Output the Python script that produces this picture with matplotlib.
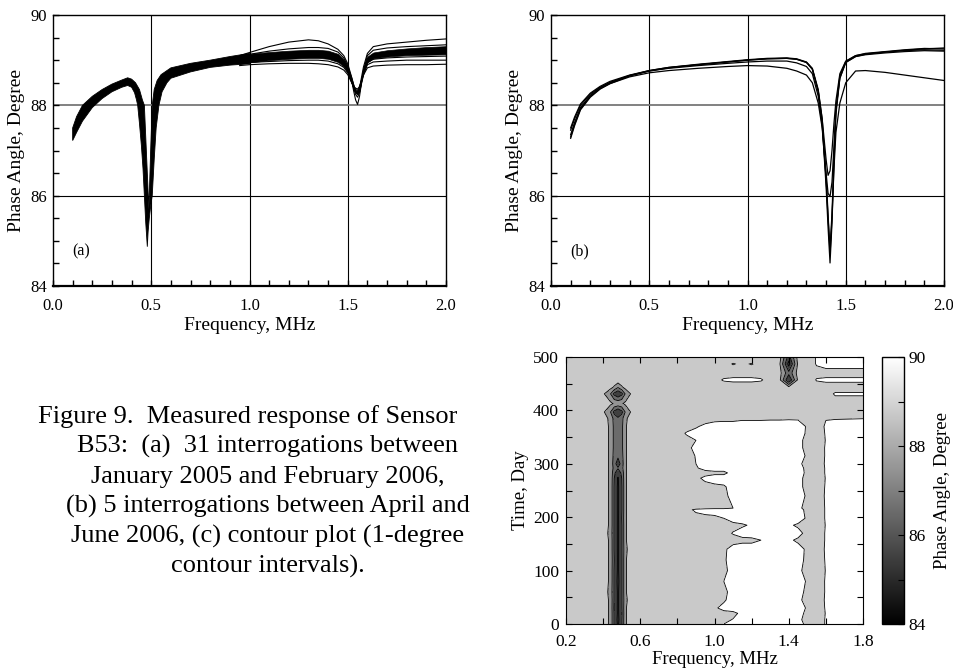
import numpy as np
import matplotlib
matplotlib.use('Agg')
import matplotlib.pyplot as plt
from matplotlib.ticker import MultipleLocator, FormatStrFormatter
from matplotlib.colors import Normalize
from matplotlib.cm import ScalarMappable

plt.rcParams['font.family'] = ['Liberation Serif', 'DejaVu Serif']

# ---------------- panel (a): 31 interrogations, Jan 2005 - Feb 2006
# lower/outer edge of the dense black bundle (0.1 - 1.0 MHz)
a_out_f = [0.10, 0.12, 0.15, 0.20, 0.25, 0.30, 0.35, 0.38, 0.40, 0.415, 0.425, 0.431,
           0.44, 0.45, 0.458, 0.465, 0.472, 0.480, 0.484, 0.490, 0.498, 0.505, 0.515,
           0.525, 0.539, 0.555, 0.58, 0.60, 0.70, 0.80, 0.90, 1.00]
a_out_v = [87.22, 87.40, 87.65, 87.95, 88.15, 88.30, 88.40, 88.44, 88.40, 88.28, 88.12, 88.00,
           87.60, 87.10, 86.60, 86.00, 85.40, 84.87, 85.20, 85.50, 85.80, 86.00, 86.80,
           87.50, 88.00, 88.30, 88.50, 88.60, 88.74, 88.84, 88.89, 88.92]
# upper/inner edge of the bundle
a_in_f = [0.10, 0.12, 0.15, 0.20, 0.25, 0.30, 0.35, 0.38, 0.40, 0.42, 0.44, 0.455, 0.465,
          0.475, 0.485, 0.488, 0.490, 0.497, 0.505, 0.515, 0.53, 0.55, 0.60, 0.70, 0.80,
          0.90, 1.00]
a_in_v = [87.50, 87.75, 88.00, 88.20, 88.35, 88.47, 88.56, 88.61, 88.58, 88.50, 88.35, 88.12,
          88.00, 87.00, 86.00, 85.70, 86.00, 87.00, 88.00, 88.35, 88.55, 88.68, 88.83, 88.93,
          89.00, 89.08, 89.15]

# above 0.95 MHz the curves spread out
a_f = [0.95, 1.00, 1.10, 1.20, 1.30, 1.35, 1.40, 1.45, 1.48, 1.50, 1.52, 1.53, 1.54, 1.55,
       1.56, 1.57, 1.58, 1.60, 1.63, 1.70, 1.80, 1.90, 2.00]
a_core_lo = [88.92, 88.95, 89.00, 89.03, 89.05, 89.05, 89.03, 88.96, 88.86, 88.72, 88.48, 88.36,
             88.27, 88.24, 88.32, 88.52, 88.70, 88.95, 89.04, 89.08, 89.11, 89.12, 89.13]
a_core_hi = [89.10, 89.14, 89.18, 89.21, 89.23, 89.23, 89.21, 89.14, 89.02, 88.86, 88.60, 88.45,
             88.33, 88.30, 88.40, 88.62, 88.82, 89.08, 89.17, 89.22, 89.26, 89.29, 89.31]
a_c1 = [89.10, 89.17, 89.30, 89.40, 89.45, 89.43, 89.36, 89.24, 89.10, 88.92, 88.62, 88.45,
        88.30, 88.25, 88.38, 88.62, 88.85, 89.15, 89.30, 89.36, 89.40, 89.44, 89.47]
a_c2 = [89.08, 89.13, 89.20, 89.25, 89.28, 89.28, 89.26, 89.18, 89.05, 88.88, 88.55, 88.32,
        88.12, 88.02, 88.20, 88.50, 88.78, 89.10, 89.22, 89.27, 89.30, 89.32, 89.34]
a_c3 = [89.00, 89.06, 89.12, 89.16, 89.19, 89.19, 89.17, 89.10, 88.98, 88.82, 88.54, 88.38,
        88.24, 88.18, 88.28, 88.52, 88.75, 89.03, 89.12, 89.16, 89.20, 89.23, 89.25]
a_c4 = [88.95, 89.00, 89.06, 89.10, 89.13, 89.13, 89.11, 89.04, 88.93, 88.78, 88.52, 88.40,
        88.30, 88.26, 88.34, 88.54, 88.72, 88.98, 89.07, 89.11, 89.14, 89.16, 89.18]
a_c5 = [88.93, 88.97, 89.02, 89.05, 89.08, 89.09, 89.08, 89.02, 88.92, 88.78, 88.54, 88.42,
        88.33, 88.30, 88.38, 88.56, 88.72, 88.95, 89.02, 89.05, 89.07, 89.08, 89.09]
a_c6 = [88.92, 88.95, 88.97, 88.99, 89.00, 89.00, 88.98, 88.92, 88.84, 88.72, 88.52, 88.42,
        88.35, 88.33, 88.40, 88.55, 88.70, 88.90, 88.96, 88.98, 89.00, 89.00, 89.00]
a_c7 = [88.88, 88.90, 88.92, 88.93, 88.93, 88.92, 88.90, 88.85, 88.78, 88.68, 88.50, 88.42,
        88.38, 88.36, 88.42, 88.55, 88.67, 88.83, 88.87, 88.89, 88.90, 88.90, 88.91]
a_curves = [a_c1, a_c2, a_c3, a_c4, a_c5, a_c6, a_c7]

# ---------------- panel (b): 5 interrogations, Apr - Jun 2006
b_f = [0.10, 0.12, 0.15, 0.20, 0.25, 0.30, 0.40, 0.50, 0.60, 0.75, 0.90, 1.00, 1.10, 1.20,
       1.25, 1.30, 1.33, 1.36, 1.38, 1.40, 1.41, 1.42, 1.43, 1.44, 1.45, 1.47, 1.50, 1.55,
       1.60, 1.70, 1.80, 1.90, 2.00]
b_1 = [87.27, 87.55, 87.90, 88.18, 88.36, 88.48, 88.65, 88.76, 88.83, 88.90, 88.96, 89.00, 89.03,
       89.04, 89.02, 88.95, 88.80, 88.30, 87.60, 86.20, 85.30, 84.51, 85.40, 86.70, 87.80, 88.60,
       88.95, 89.08, 89.13, 89.18, 89.22, 89.25, 89.27]
b_2 = [87.35, 87.62, 87.95, 88.22, 88.39, 88.50, 88.66, 88.77, 88.84, 88.91, 88.97, 89.01, 89.04,
       89.05, 89.03, 88.96, 88.82, 88.35, 87.70, 86.35, 85.50, 84.84, 85.60, 86.85, 87.90, 88.65,
       88.97, 89.10, 89.15, 89.19, 89.23, 89.26, 89.25]
b_3 = [87.45, 87.70, 88.00, 88.25, 88.40, 88.51, 88.66, 88.76, 88.82, 88.88, 88.93, 88.96, 88.98,
       88.98, 88.94, 88.86, 88.70, 88.20, 87.55, 86.50, 86.05, 85.98, 86.30, 87.10, 87.90, 88.60,
       88.95, 89.08, 89.12, 89.16, 89.19, 89.21, 89.20]
b_4 = [87.50, 87.74, 88.03, 88.27, 88.42, 88.53, 88.67, 88.77, 88.84, 88.90, 88.96, 89.00, 89.03,
       89.04, 89.02, 88.95, 88.80, 88.32, 87.70, 86.80, 86.45, 86.55, 87.00, 87.60, 88.10, 88.70,
       88.98, 89.10, 89.14, 89.18, 89.21, 89.23, 89.22]
b_5 = [87.30, 87.58, 87.92, 88.20, 88.37, 88.48, 88.63, 88.72, 88.77, 88.82, 88.86, 88.88, 88.87,
       88.82, 88.76, 88.67, 88.50, 88.05, 87.50, 86.40, 85.60, 84.70, 85.50, 86.60, 87.40, 88.05,
       88.50, 88.76, 88.77, 88.73, 88.67, 88.61, 88.55]
b_curves = [b_1, b_2, b_3, b_4, b_5]

# ---------------- panel (c): phase angle vs frequency and day
c_days = [0, 8, 20, 30, 45, 60, 80, 100, 120, 140, 157, 170, 185, 198, 214, 217, 240, 257,
          273, 283, 292, 300, 315, 330, 344, 357, 370, 385, 397, 413, 431, 444, 457, 470,
          487, 500]
c_freq_strip = [0.20, 0.40, 0.44, 0.46, 0.48, 0.50, 0.52, 0.56, 0.80]
c_freq_mid = [0.85, 0.90, 0.95, 1.00, 1.05, 1.10, 1.15, 1.20, 1.25, 1.30, 1.35, 1.40, 1.45]
c_freq_right = [1.50, 1.55, 1.60, 1.65, 1.80]

c_strip = [
    [88.3, 88.5, 87.8, 85.9, 84.8, 85.9, 87.9, 88.6, 88.8],
    [88.3, 88.5, 87.8, 85.9, 84.7, 85.9, 87.9, 88.6, 88.8],
    [88.3, 88.5, 87.8, 85.9, 84.8, 85.8, 87.9, 88.6, 88.8],
    [88.3, 88.5, 87.8, 85.8, 84.8, 85.9, 87.9, 88.6, 88.8],
    [88.3, 88.5, 87.8, 85.9, 84.8, 85.9, 87.8, 88.6, 88.8],
    [88.3, 88.5, 87.7, 85.9, 84.8, 85.9, 87.9, 88.6, 88.8],
    [88.3, 88.5, 87.8, 85.9, 84.7, 85.9, 87.9, 88.6, 88.8],
    [88.3, 88.5, 87.8, 85.9, 84.8, 85.9, 87.9, 88.6, 88.8],
    [88.3, 88.5, 87.8, 86.0, 84.8, 85.9, 87.9, 88.6, 88.8],
    [88.3, 88.5, 87.8, 85.9, 84.8, 85.9, 87.8, 88.6, 88.8],
    [88.3, 88.5, 87.8, 85.9, 84.8, 85.9, 87.9, 88.6, 88.8],
    [88.3, 88.5, 87.7, 85.9, 84.8, 85.9, 87.9, 88.6, 88.8],
    [88.3, 88.5, 87.8, 85.9, 84.8, 85.9, 87.9, 88.6, 88.8],
    [88.3, 88.5, 87.8, 85.9, 84.8, 86.0, 87.9, 88.6, 88.8],
    [88.3, 88.5, 87.8, 85.9, 84.8, 85.9, 87.9, 88.6, 88.8],
    [88.3, 88.5, 87.8, 85.9, 84.8, 85.9, 87.9, 88.6, 88.8],
    [88.3, 88.5, 87.8, 85.9, 84.8, 85.9, 87.9, 88.6, 88.8],
    [88.3, 88.5, 87.8, 85.9, 84.8, 85.9, 87.9, 88.6, 88.8],
    [88.3, 88.5, 87.8, 86.0, 84.9, 86.0, 87.9, 88.6, 88.8],
    [88.3, 88.5, 87.8, 86.2, 85.4, 86.2, 87.9, 88.6, 88.8],
    [88.3, 88.5, 87.8, 86.6, 86.1, 86.6, 87.9, 88.6, 88.8],
    [88.3, 88.5, 87.8, 86.4, 85.5, 86.4, 87.9, 88.6, 88.8],
    [88.3, 88.5, 87.8, 86.6, 86.2, 86.6, 87.9, 88.6, 88.8],
    [88.3, 88.5, 87.8, 86.7, 86.3, 86.7, 87.9, 88.6, 88.8],
    [88.3, 88.5, 87.8, 86.7, 86.3, 86.7, 87.9, 88.6, 88.8],
    [88.3, 88.5, 87.8, 86.7, 86.3, 86.7, 87.9, 88.6, 88.8],
    [88.3, 88.5, 87.8, 86.7, 86.4, 86.7, 87.9, 88.6, 88.8],
    [88.3, 88.5, 87.7, 86.6, 86.2, 86.6, 87.8, 88.6, 88.8],
    [88.4, 88.2, 87.0, 85.7, 85.0, 85.7, 87.1, 88.4, 88.7],
    [88.4, 88.5, 88.2, 87.9, 87.8, 87.9, 88.2, 88.6, 88.7],
    [88.4, 88.2, 87.0, 85.7, 85.1, 85.7, 87.1, 88.4, 88.7],
    [88.4, 88.5, 88.4, 87.9, 87.2, 87.9, 88.4, 88.6, 88.7],
    [88.4, 88.5, 88.6, 88.6, 88.6, 88.6, 88.6, 88.7, 88.8],
    [88.4, 88.5, 88.6, 88.6, 88.6, 88.6, 88.6, 88.7, 88.8],
    [88.4, 88.5, 88.6, 88.6, 88.6, 88.6, 88.6, 88.7, 88.8],
    [88.4, 88.5, 88.6, 88.6, 88.6, 88.6, 88.6, 88.7, 88.8],
]
c_mid = [
    [88.8, 88.8, 88.85, 88.9, 89.0, 89.15, 89.2, 89.2, 89.2, 89.2, 89.2, 89.2, 89.15],
    [88.8, 88.8, 88.85, 88.9, 88.9, 89.02, 89.15, 89.2, 89.2, 89.2, 89.2, 89.2, 89.1],
    [88.8, 88.8, 88.85, 88.9, 88.9, 88.9, 89.1, 89.2, 89.2, 89.2, 89.2, 89.2, 89.15],
    [88.8, 88.8, 88.85, 88.95, 89.1, 89.2, 89.2, 89.2, 89.2, 89.2, 89.2, 89.2, 89.2],
    [88.8, 88.8, 88.85, 88.9, 88.95, 89.15, 89.2, 89.2, 89.2, 89.2, 89.2, 89.2, 89.1],
    [88.8, 88.8, 88.85, 88.9, 88.9, 89.15, 89.2, 89.2, 89.2, 89.2, 89.2, 89.2, 89.15],
    [88.8, 88.8, 88.85, 88.9, 89.0, 89.15, 89.2, 89.2, 89.2, 89.2, 89.2, 89.2, 89.2],
    [88.8, 88.8, 88.85, 88.9, 88.9, 89.15, 89.2, 89.2, 89.2, 89.2, 89.2, 89.2, 89.1],
    [88.8, 88.8, 88.85, 88.9, 88.95, 89.15, 89.2, 89.2, 89.2, 89.2, 89.2, 89.2, 89.15],
    [88.8, 88.8, 88.85, 88.9, 88.95, 89.1, 89.2, 89.2, 89.2, 89.2, 89.2, 89.2, 89.1],
    [88.8, 88.8, 88.85, 88.9, 88.9, 88.9, 88.9, 88.9, 89.0, 89.15, 89.1, 89.05, 88.95],
    [88.8, 88.8, 88.85, 88.9, 88.9, 89.02, 89.15, 89.2, 89.2, 89.2, 89.2, 89.2, 89.1],
    [88.8, 88.8, 88.85, 88.9, 88.9, 88.9, 88.95, 89.05, 89.2, 89.2, 89.15, 89.05, 88.95],
    [88.8, 88.8, 88.85, 88.9, 89.0, 89.15, 89.2, 89.2, 89.2, 89.2, 89.2, 89.2, 89.15],
    [88.85, 89.1, 89.2, 89.2, 89.2, 89.2, 89.2, 89.2, 89.2, 89.2, 89.2, 89.2, 89.15],
    [88.8, 88.8, 88.85, 88.9, 88.9, 89.0, 89.15, 89.2, 89.2, 89.2, 89.2, 89.2, 89.1],
    [88.8, 88.8, 88.85, 88.9, 88.92, 89.1, 89.2, 89.2, 89.2, 89.2, 89.2, 89.2, 89.15],
    [88.8, 88.8, 88.85, 88.9, 88.95, 89.15, 89.2, 89.2, 89.2, 89.2, 89.2, 89.2, 89.1],
    [88.8, 88.9, 89.1, 89.2, 89.2, 89.2, 89.2, 89.2, 89.2, 89.2, 89.2, 89.2, 89.15],
    [88.8, 88.8, 88.85, 88.9, 88.9, 89.15, 89.2, 89.2, 89.2, 89.2, 89.2, 89.2, 89.1],
    [88.8, 88.95, 89.15, 89.2, 89.2, 89.2, 89.2, 89.2, 89.2, 89.2, 89.2, 89.2, 89.15],
    [88.85, 89.0, 89.15, 89.2, 89.2, 89.2, 89.2, 89.2, 89.2, 89.2, 89.2, 89.2, 89.1],
    [88.85, 89.02, 89.2, 89.2, 89.2, 89.2, 89.2, 89.2, 89.2, 89.2, 89.2, 89.2, 89.15],
    [88.9, 89.1, 89.2, 89.2, 89.2, 89.2, 89.2, 89.2, 89.2, 89.2, 89.2, 89.2, 89.1],
    [88.85, 89.0, 89.2, 89.2, 89.2, 89.2, 89.2, 89.2, 89.2, 89.2, 89.2, 89.2, 89.15],
    [89.05, 89.15, 89.2, 89.2, 89.2, 89.2, 89.2, 89.2, 89.2, 89.2, 89.2, 89.2, 89.15],
    [88.8, 88.95, 89.1, 89.2, 89.25, 89.25, 89.3, 89.3, 89.3, 89.3, 89.3, 89.25, 89.2],
    [88.8, 88.8, 88.8, 88.85, 88.85, 88.85, 88.9, 88.9, 88.9, 88.92, 88.92, 88.95, 88.95],
    [88.75, 88.75, 88.75, 88.75, 88.75, 88.75, 88.75, 88.75, 88.75, 88.75, 88.75, 88.75, 88.75],
    [88.75, 88.75, 88.75, 88.75, 88.75, 88.75, 88.75, 88.75, 88.75, 88.75, 88.75, 88.75, 88.75],
    [88.75, 88.75, 88.75, 88.75, 88.75, 88.75, 88.75, 88.75, 88.75, 88.75, 88.75, 88.75, 88.75],
    [88.75, 88.75, 88.75, 88.75, 88.75, 88.75, 88.75, 88.75, 88.75, 88.75, 88.7, 88.1, 88.6],
    [88.8, 88.8, 88.8, 88.85, 89.05, 89.1, 89.1, 89.1, 89.05, 88.8, 88.3, 85.0, 88.2],
    [88.8, 88.8, 88.8, 88.8, 88.8, 88.8, 88.8, 88.8, 88.8, 88.8, 88.4, 86.3, 88.4],
    [88.8, 88.8, 88.8, 88.85, 88.9, 89.02, 88.95, 89.02, 88.9, 88.8, 88.2, 84.6, 88.2],
    [88.8, 88.8, 88.8, 88.8, 88.8, 88.8, 88.8, 88.8, 88.8, 88.8, 88.4, 85.6, 88.4],
]
c_right = [
    [88.9, 88.3, 89.1, 89.2, 89.3],
    [88.85, 88.3, 89.1, 89.2, 89.3],
    [88.9, 88.35, 89.05, 89.2, 89.3],
    [88.95, 88.3, 89.1, 89.2, 89.3],
    [88.85, 88.3, 89.15, 89.2, 89.3],
    [88.9, 88.3, 89.1, 89.2, 89.3],
    [88.95, 88.35, 89.1, 89.2, 89.3],
    [88.85, 88.3, 89.05, 89.2, 89.3],
    [88.9, 88.3, 89.1, 89.2, 89.3],
    [88.95, 88.3, 89.15, 89.2, 89.3],
    [88.7, 88.3, 89.1, 89.2, 89.3],
    [88.9, 88.3, 89.1, 89.2, 89.3],
    [88.75, 88.35, 89.05, 89.2, 89.3],
    [88.95, 88.3, 89.1, 89.2, 89.3],
    [88.9, 88.3, 89.1, 89.2, 89.3],
    [88.85, 88.3, 89.1, 89.2, 89.3],
    [88.95, 88.3, 89.15, 89.2, 89.3],
    [88.9, 88.3, 89.1, 89.2, 89.3],
    [88.85, 88.35, 89.05, 89.2, 89.3],
    [88.95, 88.3, 89.1, 89.2, 89.3],
    [88.9, 88.3, 89.1, 89.2, 89.3],
    [88.85, 88.3, 89.15, 89.2, 89.3],
    [88.95, 88.3, 89.1, 89.2, 89.3],
    [88.9, 88.35, 89.1, 89.2, 89.3],
    [88.85, 88.3, 89.05, 89.2, 89.3],
    [88.95, 88.3, 89.1, 89.2, 89.3],
    [88.95, 88.4, 89.15, 89.2, 89.25],
    [88.8, 88.5, 88.95, 88.97, 88.99],
    [88.7, 88.6, 88.8, 88.8, 88.8],
    [88.7, 88.6, 88.75, 88.8, 88.8],
    [88.7, 88.6, 88.8, 89.05, 89.05],
    [88.6, 88.7, 88.8, 88.8, 88.8],
    [88.6, 89.05, 89.1, 89.1, 89.1],
    [88.6, 88.8, 88.8, 88.8, 88.8],
    [88.6, 89.05, 89.2, 89.2, 89.2],
    [88.6, 89.05, 89.2, 89.2, 89.2],
]

caption = ["Figure 9.  Measured response of Sensor",
           "B53:  (a)  31 interrogations between",
           "January 2005 and February 2006,",
           "(b) 5 interrogations between April and",
           "June 2006, (c) contour plot (1-degree",
           "contour intervals)."]

W, H = 954, 672
fig = plt.figure(figsize=(W / 100, H / 100), dpi=100)


def px_axes(x0, y0, x1, y1):
    return fig.add_axes([x0 / W, 1 - y1 / H, (x1 - x0) / W, (y1 - y0) / H])


def style_response(ax, tag):
    ax.set_xlim(0, 2)
    ax.set_ylim(84, 90)
    ax.xaxis.set_major_locator(MultipleLocator(0.5))
    ax.xaxis.set_minor_locator(MultipleLocator(0.1))
    ax.yaxis.set_major_locator(MultipleLocator(2))
    ax.yaxis.set_minor_locator(MultipleLocator(0.5))
    ax.xaxis.set_major_formatter(FormatStrFormatter('%.1f'))
    ax.tick_params(which='both', direction='in', top=False, right=False,
                   length=4, width=1, labelsize=12)
    ax.tick_params(axis='x', pad=9)
    ax.tick_params(axis='y', pad=4)
    for x in (0.5, 1.0, 1.5):
        ax.axvline(x, color='k', lw=0.8, zorder=1)
    ax.axhline(86, color='k', lw=0.8, zorder=1)
    ax.axhline(88, color='#777777', lw=1.3, zorder=1)
    for s in ax.spines.values():
        s.set_linewidth(1.0)
    ax.spines['bottom'].set_linewidth(1.6)
    ax.set_xlabel('Frequency, MHz', fontsize=14, labelpad=2)
    ax.set_ylabel('Phase Angle, Degree', fontsize=14, labelpad=4)
    ax.text(0.1, 84.76, tag, fontsize=11.5, va='center', ha='left')


# (a)
ax_a = px_axes(53, 15, 446, 286)
ax_a.fill(np.concatenate([a_out_f, a_in_f[::-1]]),
          np.concatenate([a_out_v, a_in_v[::-1]]),
          color='k', lw=0.6, zorder=3)
ax_a.fill_between(a_f, a_core_lo, a_core_hi, color='k', lw=0.5, zorder=3)
for c in a_curves:
    ax_a.plot(a_f, c, color='k', lw=0.8, zorder=3)
style_response(ax_a, '(a)')

# (b)
ax_b = px_axes(551, 15, 944, 286)
for c in b_curves:
    ax_b.plot(b_f, c, color='k', lw=0.9, zorder=3)
style_response(ax_b, '(b)')

# (c) contour plot
c_freq = c_freq_strip + c_freq_mid + c_freq_right
Z = np.hstack([np.array(c_strip), np.array(c_mid), np.array(c_right)])
levels = np.arange(84, 91)
fill_grays = [0.08, 0.25, 0.42, 0.58, 0.79, 1.0]
fill_colors = [(g, g, g) for g in fill_grays]

ax_c = px_axes(566, 357, 863, 624)
ax_c.contourf(c_freq, c_days, Z, levels=levels, colors=fill_colors)
ax_c.contour(c_freq, c_days, Z, levels=levels, colors='k', linewidths=0.6)
ax_c.set_xlim(0.2, 1.8)
ax_c.set_ylim(0, 500)
ax_c.set_xticks([0.2, 0.6, 1.0, 1.4, 1.8])
ax_c.set_xticks([0.4, 0.8, 1.2, 1.6], minor=True)
ax_c.xaxis.set_major_formatter(FormatStrFormatter('%.1f'))
ax_c.yaxis.set_major_locator(MultipleLocator(100))
ax_c.yaxis.set_minor_locator(MultipleLocator(50))
ax_c.tick_params(which='both', direction='in', top=True, right=True,
                 length=4, width=0.8, labelsize=12.5)
ax_c.tick_params(axis='x', pad=7)
ax_c.tick_params(axis='y', pad=5)
ax_c.set_xlabel('Frequency, MHz', fontsize=13.5, labelpad=1)
ax_c.set_ylabel('Time, Day', fontsize=13.5, labelpad=3)

cax = px_axes(882, 357, 904, 624)
cb = fig.colorbar(ScalarMappable(norm=Normalize(84, 90), cmap='gray'), cax=cax)
cb.set_ticks([84, 86, 88, 90])
cb.ax.yaxis.set_minor_locator(MultipleLocator(1))
cb.ax.tick_params(which='both', direction='in', length=4, width=0.8,
                  labelsize=12.5, pad=3)
cb.outline.set_linewidth(1.0)
cb.set_label('Phase Angle, Degree', fontsize=13.5, labelpad=6)

# caption
cap_x = [248] + [267.5] * (len(caption) - 1)
for i, line in enumerate(caption):
    fig.text(cap_x[i] / W, 1 - (423 + 30 * i) / H, line, fontsize=19,
             ha='center', va='baseline')

fig.savefig('out.png', dpi=100)
